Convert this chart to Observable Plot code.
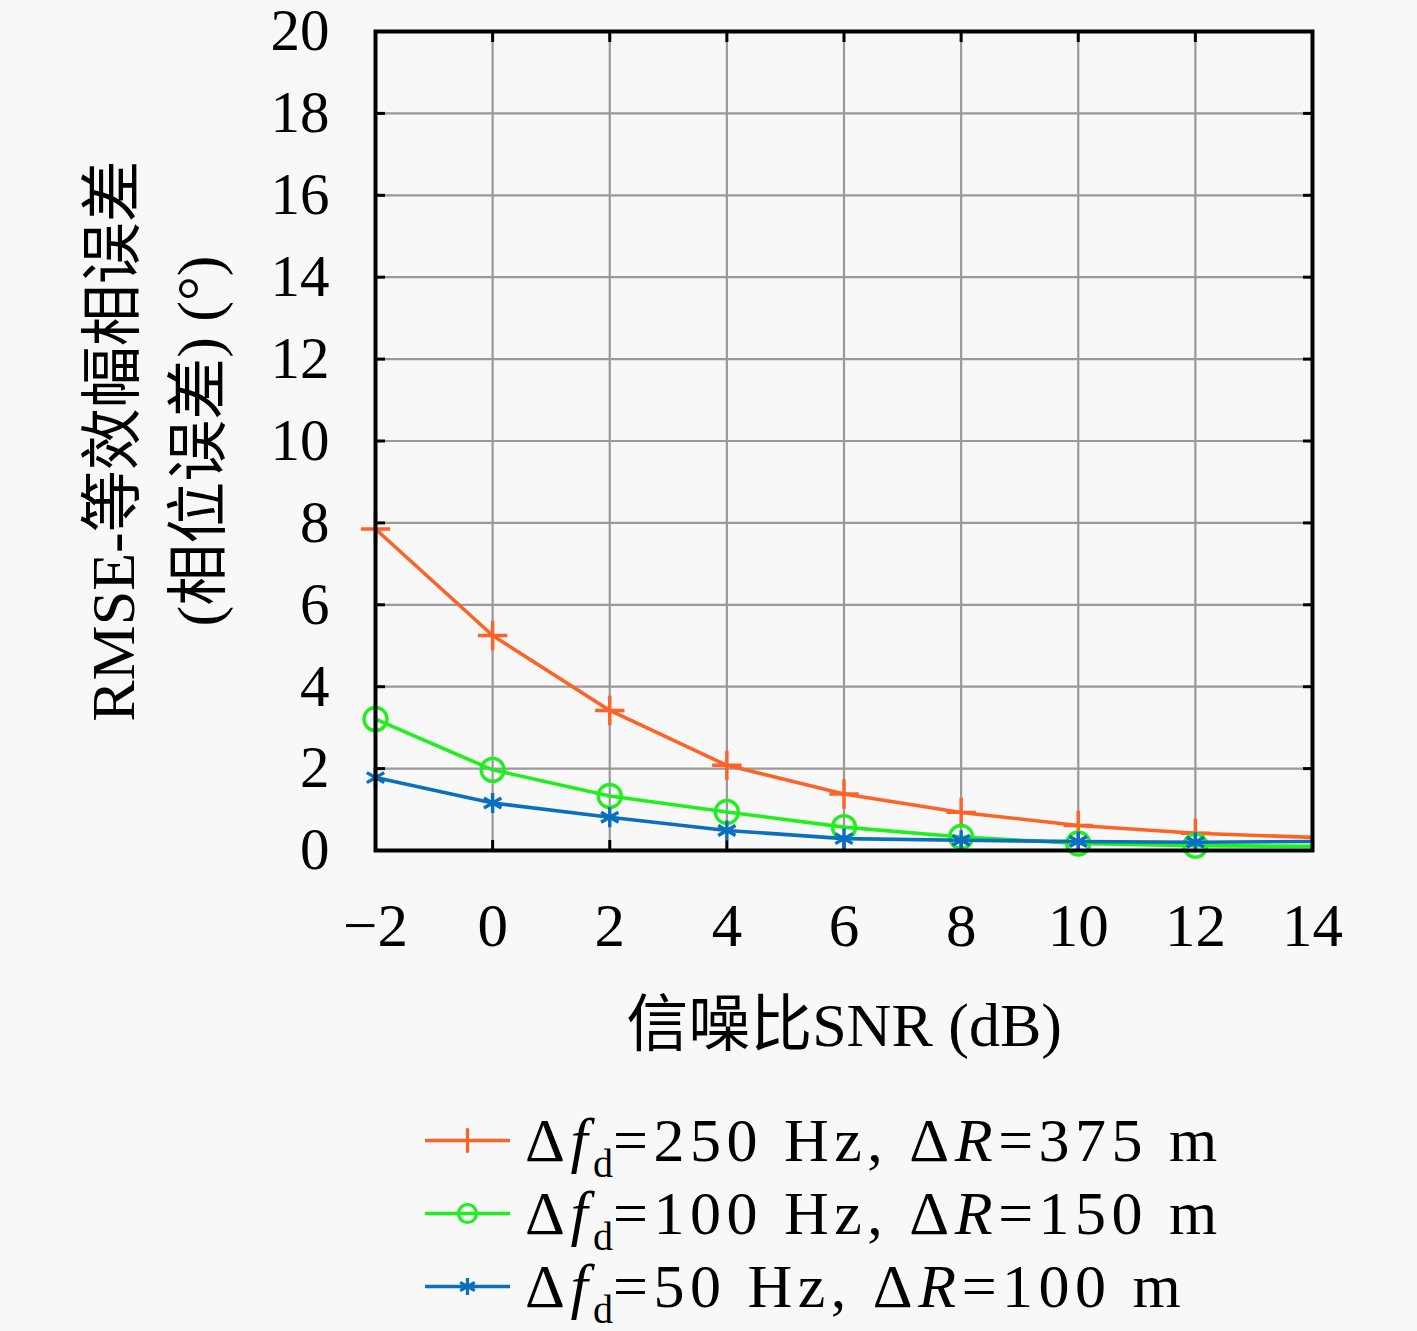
<!DOCTYPE html>
<html><head><meta charset="utf-8">
<script src="https://cdn.jsdelivr.net/npm/d3@7"></script>
<script src="https://cdn.jsdelivr.net/npm/@observablehq/plot@0.6"></script>
<style>
html,body{margin:0;padding:0;background:#f8f8f8;}
body{width:1417px;height:1331px;overflow:hidden;position:relative;font-family:"Liberation Serif","Noto Sans CJK SC",serif;}
#chart{position:absolute;left:0;top:0;}
#legend{position:absolute;left:425px;top:1104px;}
.row{display:flex;align-items:center;height:73px;}
.row svg{margin-right:15px;flex:none;}
.lab{font-size:62px;line-height:73px;color:#000;white-space:nowrap;font-family:"Liberation Serif",serif;letter-spacing:5.5px;}
.lab sub{font-size:40px;vertical-align:-0.4em;line-height:0;letter-spacing:0;}
</style></head><body><div id="chart"></div><div id="legend"></div>
<script>
// ---- data ----
const snr = [-2, 0, 2, 4, 6, 8, 10, 12, 14];
const rmse250 = [7.85, 5.25, 3.42, 2.08, 1.38, 0.93, 0.61, 0.42, 0.32];
const rmse100 = [3.21, 1.97, 1.33, 0.94, 0.57, 0.33, 0.17, 0.12, 0.10];
const rmse50  = [1.78, 1.16, 0.81, 0.49, 0.29, 0.25, 0.22, 0.20, 0.22];
const xTicks = [-2, 0, 2, 4, 6, 8, 10, 12, 14];
const yTicks = [0, 2, 4, 6, 8, 10, 12, 14, 16, 18, 20];
const legendDf = [250, 100, 50];
const legendDR = [375, 150, 100];
const seriesColors = ["#ff6226", "#1ef01e", "#0a6fbf"];
const seriesSymbols = ["plus", "circle", "asterisk"];
const markerLastSNR = 12;
const xLabel = "信噪比SNR (dB)";
const yLabel = "RMSE-等效幅相误差\n(相位误差) (°)";

const seriesValues = [rmse250, rmse100, rmse50];
const rows = seriesValues.flatMap((vals, s) => snr.map((x, i) => ({snr: x, v: vals[i], s})));

const font = "'Liberation Serif','Noto Sans CJK SC',serif";
const noText = () => "";
const minus = d => (d < 0 ? "\u2212" + Math.abs(d) : String(d));

const marks = [
  Plot.gridX(xTicks, {stroke: "#9a9a9a", strokeOpacity: 1, strokeWidth: 2.2}),
  Plot.gridY(yTicks, {stroke: "#9a9a9a", strokeOpacity: 1, strokeWidth: 2.2}),
  Plot.axisX(xTicks, {anchor: "bottom", tickSize: 0, tickPadding: 52, tickFormat: minus, fontSize: 61, label: null}),
  Plot.axisY(yTicks, {anchor: "left", tickSize: 0, tickPadding: 46, tickFormat: d => String(d), fontSize: 59, label: null}),
  Plot.axisX(xTicks, {anchor: "bottom", tickSize: -10, tickFormat: noText, strokeWidth: 3, label: null}),
  Plot.axisX(xTicks, {anchor: "top", tickSize: -10, tickFormat: noText, strokeWidth: 3, label: null}),
  Plot.axisY(yTicks, {anchor: "left", tickSize: -10, tickFormat: noText, strokeWidth: 3, label: null}),
  Plot.axisY(yTicks, {anchor: "right", tickSize: -10, tickFormat: noText, strokeWidth: 3, label: null}),
];
seriesValues.forEach((vals, s) => {
  const data = rows.filter(d => d.s === s);
  marks.push(Plot.line(data, {x: "snr", y: "v", stroke: seriesColors[s], strokeWidth: 3.6}));
  marks.push(Plot.dot(data.filter(d => d.snr <= markerLastSNR), {
    x: "snr", y: "v", symbol: () => seriesSymbols[s], stroke: seriesColors[s], fill: "none",
    strokeWidth: 3.4, r: s === 1 ? 11.5 : 9.5
  }));
});
marks.push(Plot.frame({stroke: "#000", strokeWidth: 4}));
marks.push(Plot.text([xLabel], {text: d => d, frameAnchor: "bottom", dy: 176, fontSize: 62, fill: "#000", textAnchor: "middle", lineAnchor: "middle", letterSpacing: 7}));
marks.push(Plot.text([yLabel], {text: d => d, frameAnchor: "left", dx: -226, rotate: -90, fontSize: 62, lineHeight: 1.38, fill: "#000", textAnchor: "middle", lineAnchor: "middle", letterSpacing: 6}));

const chart = Plot.plot({
  width: 1417,
  height: 1085,
  marginLeft: 375,
  marginRight: 105,
  marginTop: 31,
  marginBottom: 235,
  style: {background: "transparent", fontFamily: font, color: "#000", overflow: "visible"},
  x: {domain: [-2, 14]},
  y: {domain: [0, 20]},
  symbol: {type: "identity"},
  marks
});
document.getElementById("chart").appendChild(chart);

// ---- legend ----
const legend = document.getElementById("legend");
seriesColors.forEach((c, s) => {
  const row = document.createElement("div");
  row.className = "row";
  const sym = {plus: d3.symbolPlus, circle: d3.symbolCircle, asterisk: d3.symbolAsterisk}[seriesSymbols[s]];
  const r = s === 1 ? 9 : 8;
  const path = d3.symbol(sym, Math.PI * r * r)();
  row.innerHTML = `<svg width="85" height="73"><line x1="0" x2="85" y1="36.5" y2="36.5" stroke="${c}" stroke-width="3.4"/>` +
    `<path d="${path}" transform="translate(42.5,36.5)" fill="none" stroke="${c}" stroke-width="3.2"/></svg>` +
    `<span class="lab">Δ<i>f</i><sub>d</sub>=${legendDf[s]} Hz, Δ<i>R</i>=${legendDR[s]} m</span>`;
  legend.appendChild(row);
});
</script></body></html>
